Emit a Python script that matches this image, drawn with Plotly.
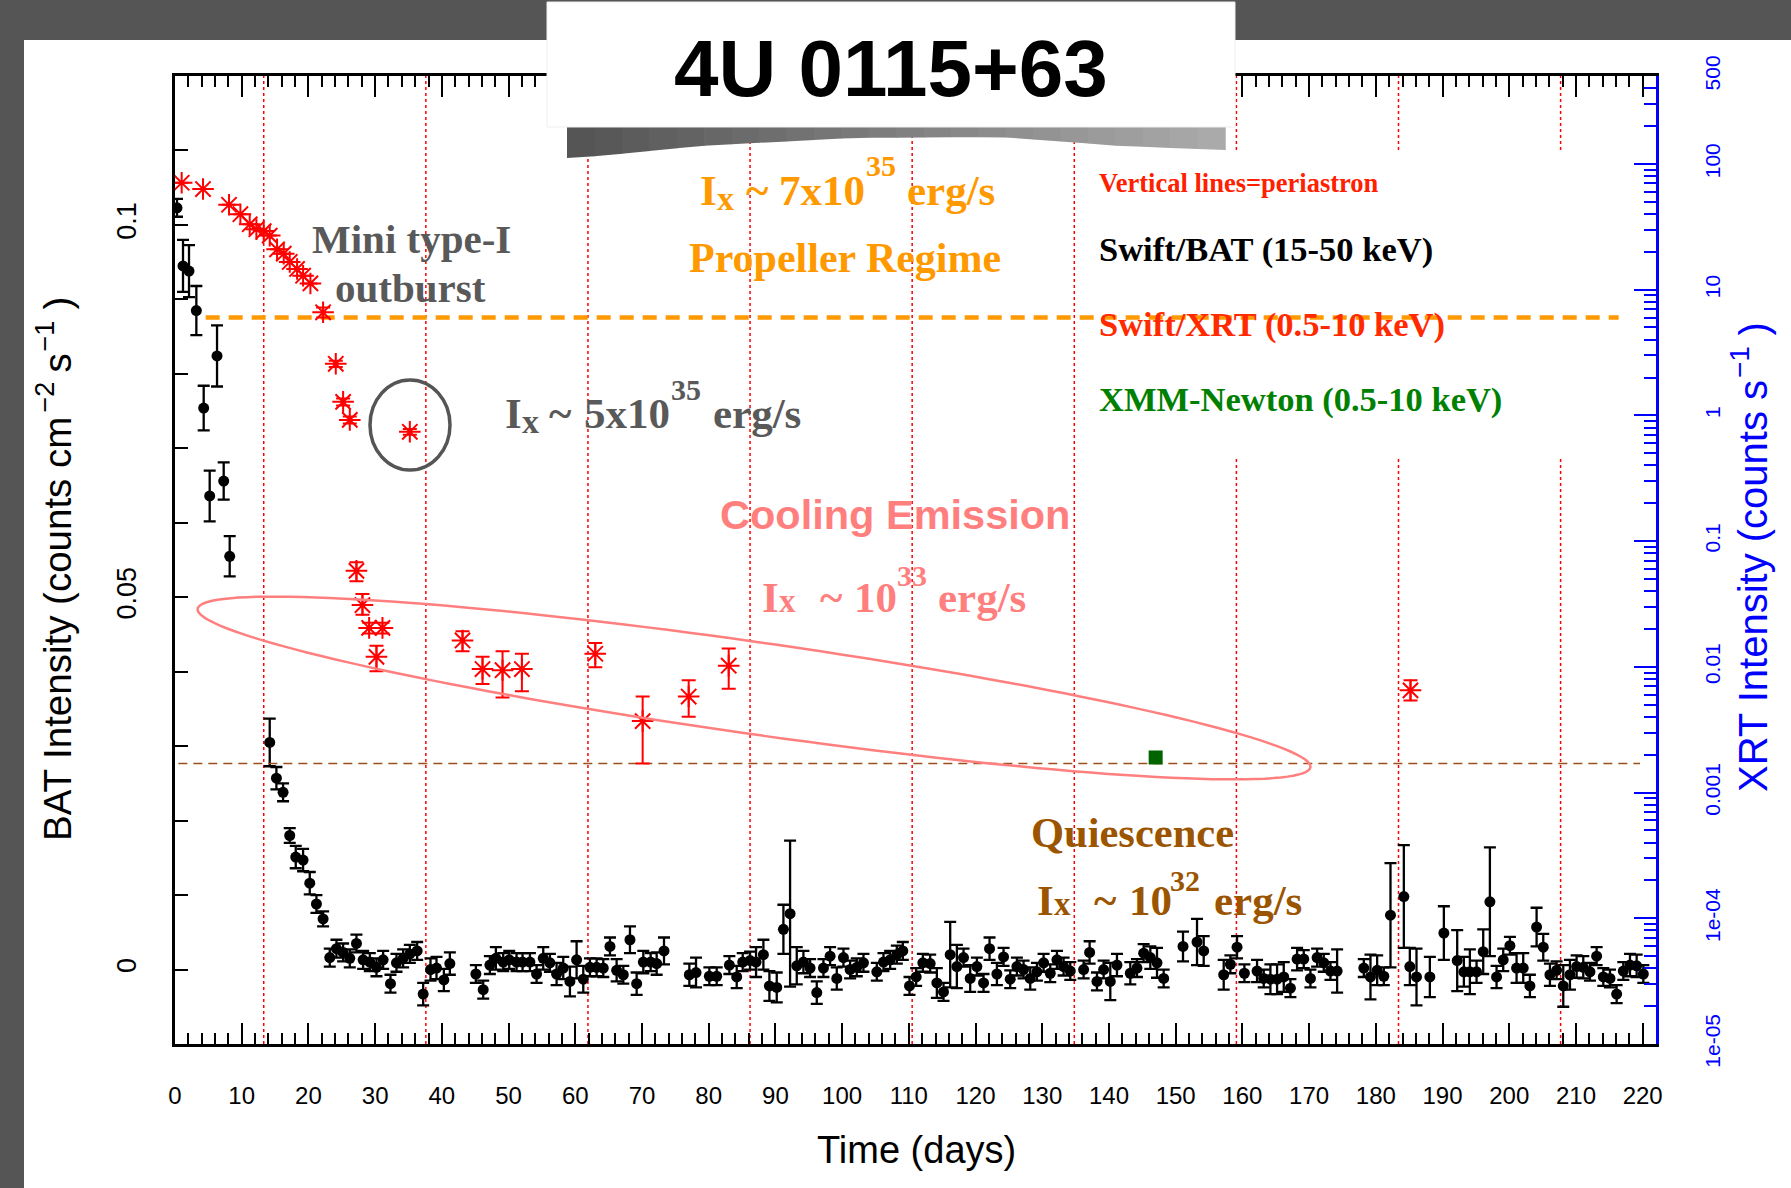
import numpy as np
import plotly.graph_objects as go

# ---------------- data ----------------
bat_day = [0.3, 1.2, 2.1, 3.2, 4.3, 5.2, 6.3, 7.3, 8.2,
           14.2, 15.2, 16.2, 17.2, 18.1, 19.2, 20.2, 21.2, 22.2,
           23.2, 24.2, 25.2, 26.2, 27.2, 28.2, 29.2, 30.2, 31.2, 32.3, 33.2, 34.2, 35.2, 36.3,
           37.2, 38.3, 39.2, 40.3, 41.2,
           45.1, 46.2, 47.2, 48.1, 49.2, 50.1, 51.2, 52.1, 53.2, 54.2, 55.2, 56.2, 57.2, 58.2,
           59.2, 60.2, 61.2, 62.2, 63.2, 64.2, 65.2, 66.2, 67.2, 68.2, 69.2, 70.2, 71.3, 72.2, 73.3,
           77.1, 78.1, 80.1, 81.2, 83.1, 84.2, 85.1, 86.2, 87.1, 88.2, 89.1, 90.2, 91.2, 92.2,
           93.2, 94.2, 95.2, 96.2, 97.2, 98.2, 99.2, 100.2, 101.2, 102.2, 103.2, 105.2, 106.2,
           107.2, 108.2, 109.1, 110.1, 111.1, 112.1, 113.2, 114.2, 115.2, 116.2, 117.2, 118.2,
           119.2, 120.2, 121.2, 122.1, 123.2, 124.2, 125.2, 126.2, 127.2, 128.2, 129.2, 130.2,
           131.2, 132.2, 133.2, 134.2, 136.2, 137.1, 138.2, 139.2, 140.2, 141.2, 143.2, 144.2,
           145.2, 146.2, 147.2, 148.2, 151.1, 153.2, 154.2, 157.2, 158.2, 159.2, 160.3, 162.2,
           163.2, 164.2, 165.2, 166.2, 167.2, 168.2, 169.2, 170.2, 171.2, 172.2, 173.2, 174.2,
           178.2, 179.2, 180.2, 181.2, 182.2, 184.2, 185.1, 186.1, 188.1, 190.2, 192.2, 193.2,
           194.1, 195.1, 196.1, 197.1, 198.1, 199.1, 200.1, 201.1, 202.1, 203.1, 204.1, 205.1,
           206.1, 207.1, 208.1, 209.1, 210.1, 211.1, 212.1, 213.1, 214.1, 215.1, 216.1, 217.1,
           218.1, 219.1, 220.1]
bat_rate = [0.1023, 0.0945, 0.0938, 0.0885, 0.0754, 0.0636, 0.0824, 0.0656, 0.0555,
            0.0305, 0.0257, 0.0238, 0.0180, 0.0151, 0.0147, 0.0116, 0.0088, 0.0068,
            0.0016, 0.0028, 0.0023, 0.0015, 0.0035, 0.0013, 0.0010, 0.0003, 0.0013, -0.0019, 0.0009, 0.0015, 0.0021, 0.0025,
            -0.0033, 0.0000, 0.0002, -0.0014, 0.0008,
            -0.0006, -0.0027, 0.0006, 0.0015, 0.0010, 0.0013, 0.0010, 0.0010, 0.0010, -0.0006, 0.0015, 0.0009, -0.0006, 0.0002,
            -0.0016, 0.0013, -0.0013, 0.0003, 0.0003, 0.0002, 0.0031, -0.0001, -0.0007, 0.0040, -0.0019, 0.0010, 0.0010, 0.0008, 0.0025,
            -0.0007, -0.0004, -0.0009, -0.0009, 0.0006, -0.0010, 0.0010, 0.0012, 0.0010, 0.0020, -0.0022, -0.0024, 0.0054, 0.0075,
            0.0005, 0.0010, 0.0002, -0.0031, 0.0002, 0.0018, -0.0012, 0.0016, 0.0000, 0.0003, 0.0009, -0.0003, 0.0010,
            0.0013, 0.0020, 0.0025, -0.0022, -0.0010, 0.0009, 0.0008, -0.0018, -0.0030, 0.0020, 0.0004, 0.0016,
            -0.0012, 0.0004, -0.0018, 0.0028, -0.0006, 0.0017, -0.0013, 0.0004, 0.0000, -0.0012, -0.0003, 0.0009,
            -0.0005, 0.0013, 0.0004, -0.0002, 0.0000, 0.0023, -0.0016, 0.0000, -0.0016, 0.0006, -0.0005, 0.0002,
            0.0022, 0.0016, 0.0009, -0.0012, 0.0031, 0.0037, 0.0025, -0.0007, 0.0007, 0.0030, -0.0005, -0.0002,
            -0.0012, -0.0013, -0.0013, -0.0010, -0.0025, 0.0014, 0.0014, -0.0012, 0.0016, 0.0009, -0.0002, -0.0002,
            0.0002, -0.0010, -0.0001, -0.0009, 0.0073, 0.0098, 0.0004, -0.0010, -0.0010, 0.0049, 0.0012, -0.0003,
            -0.0003, -0.0003, 0.0024, 0.0091, -0.0010, 0.0013, 0.0032, 0.0002, 0.0002, -0.0022, 0.0057, 0.0030,
            -0.0007, -0.0001, -0.0022, -0.0007, 0.0004, 0.0003, -0.0003, 0.0018, -0.0010, -0.0012, -0.0033, -0.0002,
            0.0006, 0.0005, -0.0006]
bat_err = [0.0012, 0.0035, 0.0035, 0.0033, 0.0030, 0.0034, 0.0041, 0.0025, 0.0027,
           0.0032, 0.0015, 0.0012, 0.0010, 0.0015, 0.0015, 0.0015, 0.0012, 0.0010,
           0.0012, 0.0012, 0.0012, 0.0012, 0.0012, 0.0012, 0.0012, 0.0012, 0.0012, 0.0012, 0.0012, 0.0012, 0.0012, 0.0012,
           0.0015, 0.0015, 0.0015, 0.0015, 0.0015,
           0.0012, 0.0012, 0.0012, 0.0015, 0.0012, 0.0012, 0.0012, 0.0012, 0.0012, 0.0012, 0.0015, 0.0012, 0.0015, 0.0015,
           0.0020, 0.0025, 0.0018, 0.0012, 0.0012, 0.0012, 0.0012, 0.0015, 0.0012, 0.0018, 0.0015, 0.0015, 0.0012, 0.0015, 0.0018,
           0.0015, 0.0020, 0.0012, 0.0012, 0.0012, 0.0015, 0.0012, 0.0012, 0.0020, 0.0020, 0.0020, 0.0020, 0.0033, 0.0098,
           0.0025, 0.0015, 0.0012, 0.0015, 0.0012, 0.0012, 0.0015, 0.0012, 0.0012, 0.0012, 0.0012, 0.0012, 0.0012,
           0.0012, 0.0012, 0.0012, 0.0012, 0.0012, 0.0012, 0.0012, 0.0020, 0.0012, 0.0044, 0.0029, 0.0012,
           0.0018, 0.0012, 0.0012, 0.0015, 0.0015, 0.0012, 0.0012, 0.0012, 0.0012, 0.0015, 0.0012, 0.0012,
           0.0012, 0.0012, 0.0012, 0.0012, 0.0012, 0.0015, 0.0012, 0.0012, 0.0025, 0.0015, 0.0015, 0.0012,
           0.0012, 0.0015, 0.0020, 0.0012, 0.0020, 0.0031, 0.0020, 0.0020, 0.0012, 0.0015, 0.0012, 0.0015,
           0.0012, 0.0020, 0.0020, 0.0020, 0.0012, 0.0015, 0.0012, 0.0012, 0.0012, 0.0012, 0.0012, 0.0029,
           0.0012, 0.0030, 0.0020, 0.0012, 0.0070, 0.0069, 0.0025, 0.0038, 0.0027, 0.0036, 0.0041, 0.0020,
           0.0030, 0.0015, 0.0030, 0.0073, 0.0015, 0.0015, 0.0012, 0.0020, 0.0020, 0.0015, 0.0026, 0.0018,
           0.0015, 0.0012, 0.0028, 0.0020, 0.0015, 0.0015, 0.0012, 0.0012, 0.0012, 0.0012, 0.0012, 0.0012,
           0.0015, 0.0015, 0.0012]

xrt_day = [1.0, 4.2, 8.1, 9.8, 11.2, 12.2, 13.3, 14.2, 15.3, 16.3, 17.2, 18.3, 19.2, 20.3,
           22.2, 24.1, 25.2, 26.2, 27.2, 28.1, 29.1, 30.2, 31.1, 35.2,
           43.1, 46.1, 49.1, 52.0, 63.0, 70.1, 77.0, 83.0, 185.2]
xrt_rate = [70.8, 63.1, 47.3, 39.8, 33.1, 30.2, 29.2, 26.9, 20.9, 19.3, 16.6, 14.6, 12.9, 11.2,
            6.6, 2.57, 1.28, 0.92, 0.058, 0.031, 0.0204, 0.0120, 0.0204, 0.74,
            0.0162, 0.0096, 0.0094, 0.0096, 0.0127, 0.0037, 0.0058, 0.0102, 0.0065]
xrt_err_hi = [0, 0, 0, 0, 0, 0, 0, 0, 0, 0, 0, 0, 0, 0,
              0.6, 0.15, 0.08, 0.06, 0.010, 0.007, 0.002, 0.0027, 0.002, 0.04,
              0.0030, 0.0024, 0.0039, 0.0031, 0.0028, 0.0021, 0.0020, 0.0038, 0.0013]
xrt_err_lo = [0, 0, 0, 0, 0, 0, 0, 0, 0, 0, 0, 0, 0, 0,
              0.6, 0.15, 0.08, 0.06, 0.010, 0.005, 0.002, 0.0028, 0.002, 0.04,
              0.0029, 0.0023, 0.0037, 0.0032, 0.0028, 0.0020, 0.0018, 0.0035, 0.0011]

xmm_day = [147.0]
xmm_rate = [0.0019]

periastron_days = [13.3, 37.6, 61.9, 86.2, 110.5, 134.8, 159.1, 183.4, 207.7]
propeller_level = 6.0       # XRT counts/s
quiescence_level = 0.0017   # XRT counts/s

x_ticks = list(range(0, 221, 10))
bat_ticks = [0, 0.05, 0.1]
bat_tick_text = ["0", "0.05", "0.1"]
xrt_ticks = [1e-5, 1e-4, 1e-3, 1e-2, 1e-1, 1, 10, 100, 500]
xrt_tick_text = ["1e-05", "1e-04", "0.001", "0.01", "0.1", "1", "10", "100", "500"]
xrt_minor = [m * 10.0 ** e for e in range(-5, 3) for m in range(2, 10) if m * 10.0 ** e <= 500]

# ---------------- geometry helpers (figure pixels -> paper) ----------------
W, H = 1791, 1188
ML, MR, MT, MB = 175, 135, 76, 144
PW, PH = W - ML - MR, H - MT - MB


def px(X):
    return (X - ML) / PW


def py(Y):
    return (H - MB - Y) / PH


SERIF = "Liberation Serif, Times New Roman, serif"
SANS = "Liberation Sans, Arial, Helvetica, sans-serif"

fig = go.Figure()

fig.add_trace(go.Scatter(x=[4.6, 216.4], y=[propeller_level, propeller_level], yaxis="y2",
                         mode="lines", line=dict(color="#ff9900", width=4.5, dash="14px,9px"),
                         hoverinfo="skip"))
fig.add_trace(go.Scatter(x=[0.5, 219.6], y=[quiescence_level, quiescence_level], yaxis="y2",
                         mode="lines", line=dict(color="#9c4f1a", width=1.5, dash="9px,6px"),
                         hoverinfo="skip"))
fig.add_trace(go.Scatter(x=bat_day, y=bat_rate, mode="markers", name="Swift/BAT",
                         marker=dict(color="black", size=11),
                         error_y=dict(type="data", array=bat_err, color="black", thickness=2.3, width=6)))
fig.add_trace(go.Scatter(x=xrt_day, y=xrt_rate, yaxis="y2", mode="markers", name="Swift/XRT",
                         marker=dict(symbol="asterisk-open", size=18, color="#ff0000",
                                     line=dict(color="#ff0000", width=2)),
                         error_y=dict(type="data", symmetric=False, array=xrt_err_hi,
                                      arrayminus=xrt_err_lo, color="#ff0000", thickness=2, width=7)))
fig.add_trace(go.Scatter(x=xmm_day, y=xmm_rate, yaxis="y2", mode="markers", name="XMM-Newton",
                         marker=dict(symbol="square", size=14, color="#006400")))

shapes = []
# periastron lines
for d in periastron_days:
    shapes.append(dict(type="line", xref="x", yref="paper", x0=d, x1=d, y0=0, y1=1,
                       line=dict(color="#ff0000", width=1.5, dash="3px,3px"), layer="below"))
# white legend patch
shapes.append(dict(type="rect", xref="paper", yref="paper", x0=px(1086), x1=px(1620),
                   y0=py(458), y1=py(153), fillcolor="white", line=dict(width=0), layer="below"))

# cooling ellipse
cx, cy, a, b = 754, 688, 562, 46
ang = np.arctan2(160, 1124)
t = np.linspace(0, 2 * np.pi, 160)
ex = cx + a * np.cos(t) * np.cos(ang) - b * np.sin(t) * np.sin(ang)
ey = cy + a * np.cos(t) * np.sin(ang) + b * np.sin(t) * np.cos(ang)
path = "M " + " L ".join(f"{px(X):.5f},{py(Y):.5f}" for X, Y in zip(ex, ey)) + " Z"
shapes.append(dict(type="path", xref="paper", yref="paper", path=path,
                   line=dict(color="#ff7f7f", width=2.5)))
# circle around mini outburst point
shapes.append(dict(type="circle", xref="paper", yref="paper", x0=px(370), x1=px(450),
                   y0=py(470), y1=py(380), line=dict(color="#555555", width=3.5)))

# dark frame of the screenshot
shapes.append(dict(type="rect", xref="paper", yref="paper", x0=px(0), x1=px(W),
                   y0=py(40), y1=py(0), fillcolor="#555555", line=dict(width=0)))
shapes.append(dict(type="rect", xref="paper", yref="paper", x0=px(0), x1=px(24),
                   y0=py(H), y1=py(0), fillcolor="#555555", line=dict(width=0)))
# title shadow: gradient strips (dark on the left, lighter on the right)
edge_x = [567, 600, 700, 850, 1000, 1120, 1225]
edge_y = [158, 156, 146, 138, 137, 146, 150]
nstrip = 24
sx = np.linspace(567, 1225, nstrip + 1)
for i in range(nstrip):
    xa, xb = sx[i], sx[i + 1]
    ya, yb = np.interp(xa, edge_x, edge_y), np.interp(xb, edge_x, edge_y)
    g = int(85 + (170 - 85) * i / (nstrip - 1))
    sp = (f"M {px(xa):.5f},{py(127):.5f} L {px(xb) + 0.0005:.5f},{py(127):.5f} "
          f"L {px(xb) + 0.0005:.5f},{py(yb):.5f} L {px(xa):.5f},{py(ya):.5f} Z")
    shapes.append(dict(type="path", xref="paper", yref="paper", path=sp,
                       fillcolor=f"rgb({g},{g},{g})", line=dict(width=0)))
# title box
shapes.append(dict(type="rect", xref="paper", yref="paper", x0=px(547), x1=px(1235),
                   y0=py(127), y1=py(2), fillcolor="white", line=dict(color="#eeeeee", width=1)))

annotations = []


def ann(text, X, Y, size, color, family=SERIF, xanchor="center", yanchor="middle", angle=0):
    annotations.append(dict(text=text, x=px(X), y=py(Y), xref="paper", yref="paper",
                            xanchor=xanchor, yanchor=yanchor, showarrow=False, textangle=angle,
                            font=dict(family=family, size=size, color=color)))


def lum_label(color, xI, xt, xm, xs, xe, base, mant, expo, sup_base, x_base, x_size=34):
    """'Ix ~ <mant>10^<expo> erg/s' written as separate pieces (pixel positions)."""
    s, ss = 43, 30
    mid = base - 0.331 * s
    ann("<b>I</b>", xI, mid, s, color, xanchor="left")
    ann("<b>x</b>", xI + 0.389 * s + 0.5, x_base - 0.331 * x_size, x_size, color, xanchor="left")
    ann("<b>~</b>", xt, mid, s, color, xanchor="left")
    ann(f"<b>{mant}</b>", xm, mid, s, color, xanchor="left")
    ann(f"<b>{expo}</b>", xs, sup_base - 0.331 * ss, ss, color, xanchor="left")
    ann("<b>erg/s</b>", xe, mid, s, color, xanchor="left")


ann("<b>4U 0115+63</b>", 891, 68, 80, "black", SANS)
ann("<b>Vertical lines=periastron</b>", 1097, 183, 26.5, "#ff2000", xanchor="left")
ann("<b>Swift/BAT (15-50 keV)</b>", 1097, 249, 34.5, "black", xanchor="left")
ann("<b>Swift/XRT (0.5-10 keV)</b>", 1097, 324, 34.5, "#ff2a00", xanchor="left")
ann("<b>XMM-Newton (0.5-10 keV)</b>", 1097, 399, 34.5, "#008000", xanchor="left")
ann("<b>Mini type-I</b>", 411, 239, 41, "#595959")
ann("<b>outburst</b>", 410, 288, 41, "#595959")
lum_label("#ff9900", 698, 744, 777, 864, 905, 205, "7x10", "35", 175, 210)
ann("<b>Propeller Regime</b>", 845, 258, 42, "#ff9900")
lum_label("#595959", 503, 547, 582, 669, 711, 428, "5x10", "35", 399, 433)
ann("<b>Cooling Emission</b>", 895, 514, 41.5, "#ff7f7f", SANS)
lum_label("#ff7f7f", 760, 818, 852, 895, 936, 612, "10", "33", 585, 612, 33)
ann("<b>Quiescence</b>", 1132, 832, 42.5, "#9b5500")
lum_label("#9b5500", 1035, 1092, 1127, 1168, 1212, 915, "10", "32", 890, 915, 33)

# axis titles (superscripts placed as separate pieces)
ann("Time (days)", 916, 1150, 38, "black", SANS)
ann("BAT Intensity (counts cm", 57, 843, 38.5, "black", SANS, yanchor="bottom", angle=-90)
ann("−2", 44, 415, 27, "black", SANS, yanchor="bottom", angle=-90)
ann("s", 57, 375, 38.5, "black", SANS, yanchor="bottom", angle=-90)
ann("−1", 44, 354, 27, "black", SANS, yanchor="bottom", angle=-90)
ann(")", 57, 312, 38.5, "black", SANS, yanchor="bottom", angle=-90)
ann("XRT Intensity (counts s", 1753, 794, 40, "#0000ff", SANS, yanchor="bottom", angle=-90)
ann("−1", 1740, 380, 28, "#0000ff", SANS, yanchor="bottom", angle=-90)
ann(")", 1753, 338, 40, "#0000ff", SANS, yanchor="bottom", angle=-90)

fig.update_layout(
    template="none",
    width=W, height=H,
    margin=dict(l=ML, r=MR, t=MT, b=MB, pad=0),
    paper_bgcolor="white", plot_bgcolor="white",
    showlegend=False,
    font=dict(family=SANS, color="black"),
    shapes=shapes,
    annotations=annotations,
    xaxis=dict(range=[0, 222], showline=True, linecolor="black", linewidth=2.5, mirror="ticks",
               ticks="inside", ticklen=21, tickwidth=2, tickcolor="black",
               tickmode="array", tickvals=x_ticks, ticktext=[str(v) for v in x_ticks],
               tickfont=dict(size=24, family=SANS), ticklabelstandoff=28,
               minor=dict(tickmode="linear", tick0=0, dtick=2, ticks="inside", ticklen=11,
                          tickwidth=1.5, tickcolor="black"),
               showgrid=False, zeroline=False),
    yaxis=dict(range=[-0.01, 0.12], showline=True, linecolor="black", linewidth=2.5,
               ticks="inside", ticklen=13, tickwidth=2, tickcolor="black",
               tickmode="array", tickvals=bat_ticks, ticktext=bat_tick_text, tickangle=-90,
               tickfont=dict(size=27, family=SANS), ticklabelstandoff=25,
               minor=dict(tickmode="linear", tick0=0, dtick=0.01, ticks="inside", ticklen=13,
                          tickwidth=2, tickcolor="black"),
               showgrid=False, zeroline=False),
    yaxis2=dict(overlaying="y", side="right", type="log", range=[-5, np.log10(500)],
                showline=True, linecolor="#0000ff", linewidth=2.5,
                ticks="inside", ticklen=22, tickwidth=2, tickcolor="#0000ff",
                tickmode="array", tickvals=xrt_ticks, ticktext=xrt_tick_text, tickangle=-90,
                tickfont=dict(size=21, family=SANS, color="#0000ff"), ticklabelstandoff=36,
                minor=dict(tickmode="array", tickvals=xrt_minor, ticks="inside", ticklen=12,
                           tickwidth=1.5, tickcolor="#0000ff"),
                showgrid=False, zeroline=False),
)

fig.write_html("out.html", config={"displayModeBar": False},
               post_script="document.body.style.margin='0';document.body.style.overflow='hidden';")
